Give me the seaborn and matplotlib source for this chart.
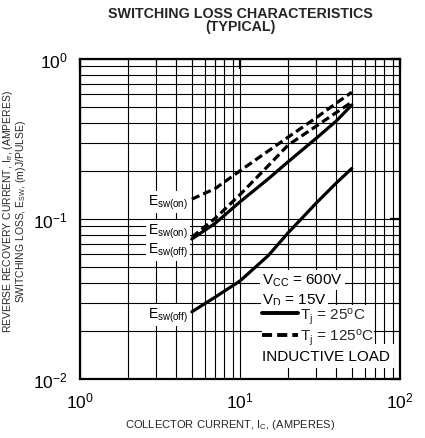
import matplotlib
matplotlib.use("Agg")
import matplotlib.pyplot as plt
from matplotlib.lines import Line2D
from matplotlib.ticker import LogLocator, NullFormatter
import seaborn as sns
import pandas as pd

# ---- data ----
current = [5, 7, 10, 15, 20, 30, 40, 50]
esw_on_125 = [0.133, 0.155, 0.200, 0.266, 0.325, 0.430, 0.530, 0.620]
esw_off_125 = [0.077, 0.101, 0.142, 0.215, 0.290, 0.381, 0.463, 0.538]
esw_on_25 = [0.075, 0.094, 0.128, 0.178, 0.228, 0.320, 0.410, 0.516]
esw_off_25 = [0.0263, 0.0325, 0.041, 0.059, 0.082, 0.126, 0.168, 0.207]

title_text = "SWITCHING LOSS CHARACTERISTICS\n(TYPICAL)"
xlabel_text = r"COLLECTOR CURRENT, I$_{\mathrm{C}}$, (AMPERES)"
ylabel1_text = r"REVERSE RECOVERY CURRENT, I$_{\mathrm{rr}}$, (AMPERES)"
ylabel2_text = r"SWITCHING LOSS, E$_{\mathrm{SW}}$, (m)J/PULSE)"
curve_labels = [r"E$_{\mathrm{sw(on)}}$", r"E$_{\mathrm{sw(on)}}$",
                r"E$_{\mathrm{sw(off)}}$", r"E$_{\mathrm{sw(off)}}$"]
cond_texts = [r"V$_{\mathrm{CC}}$ = 600V", r"V$_{\mathrm{D}}$ = 15V", "INDUCTIVE LOAD"]
temp_labels = [r"T$_{\mathrm{j}}$ = 25$^{\mathrm{o}}$C", r"T$_{\mathrm{j}}$ = 125$^{\mathrm{o}}$C"]

sns.set_theme(style="white")
plt.rcParams["font.family"] = ["Liberation Sans", "DejaVu Sans"]
plt.rcParams["mathtext.fontset"] = "custom"
plt.rcParams["mathtext.rm"] = "Liberation Sans"
plt.rcParams["mathtext.it"] = "Liberation Sans:italic"
plt.rcParams["mathtext.bf"] = "Liberation Sans:bold"
plt.rcParams["axes.unicode_minus"] = False
plt.rcParams["lines.dashed_pattern"] = [2.6, 1.3]

fig = plt.figure(figsize=(4.25, 4.39), dpi=100)
ax = fig.add_axes([80 / 425, 59 / 439, 320 / 425, 320 / 439])

series = [(esw_on_125, "--"), (esw_off_125, "--"), (esw_on_25, "-"), (esw_off_25, "-")]
for vals, ls in series:
    df = pd.DataFrame({"I": current, "E": vals})
    sns.lineplot(data=df, x="I", y="E", ax=ax, color="black", lw=2.3,
                 linestyle=ls, zorder=4)

ax.set_xscale("log")
ax.set_yscale("log")
ax.set_xlim(1, 100)
ax.set_ylim(0.01, 1)
ax.xaxis.set_major_locator(LogLocator(base=10, numticks=10))
ax.xaxis.set_minor_locator(LogLocator(base=10, subs=range(2, 10), numticks=20))
ax.yaxis.set_minor_locator(LogLocator(base=10, subs=range(2, 10), numticks=20))
ax.xaxis.set_minor_formatter(NullFormatter())
ax.yaxis.set_minor_formatter(NullFormatter())
ax.set_xlabel("")
ax.set_ylabel("")

ax.set_axisbelow(True)
ax.grid(which="both", color="black", lw=0.8)
for s in ax.spines.values():
    s.set_color("black")
    s.set_linewidth(1.6)
ax.tick_params(which="both", direction="in", top=True, right=True, colors="black")
ax.tick_params(which="major", length=7, width=1.6, labelsize=12.5, pad=9)
ax.tick_params(which="minor", length=4, width=0.8)
ax.tick_params(axis="x", which="major", pad=8)

# curve labels
label_y = [0.553, 0.4625, 0.403, 0.2]
for txt, yy in zip(curve_labels, label_y):
    ax.text(0.3375, yy, txt, transform=ax.transAxes, ha="right", va="center",
            fontsize=10, color="black", zorder=3,
            bbox=dict(boxstyle="square,pad=0.12", fc="white", ec="none"))

# conditions block
lx = (262 - 80) / 320
for txt, yy, pad in zip(cond_texts, [0.309, 0.249, 0.072], [0.12, 0.05, 0.3]):
    ax.text(lx, yy, txt, transform=ax.transAxes, ha="left", va="center",
            fontsize=11, color="black", zorder=3.2,
            bbox=dict(boxstyle=f"square,pad={pad}", fc="white", ec="none"))

handles = [Line2D([], [], color="black", lw=2.8, linestyle="-"),
           Line2D([], [], color="black", lw=2.8, linestyle="--")]
leg = ax.legend(handles, temp_labels, loc="center left",
                bbox_to_anchor=(lx, (380 - 327) / 320), frameon=True,
                fontsize=11, borderpad=0.0, borderaxespad=0, handlelength=2.35,
                handletextpad=0.15, labelspacing=0.05)
leg.get_frame().set_facecolor("white")
leg.get_frame().set_edgecolor("none")
leg.get_frame().set_alpha(1)
leg.get_frame().set_boxstyle("square", pad=0)
leg.set_zorder(3.5)

fig.text(240 / 425, 1 - 6.5 / 439, title_text, ha="center", va="top",
         fontsize=10.3, fontweight="bold", linespacing=1.0)
fig.text(14.5 / 425, 1 - 212 / 439, ylabel1_text + "\n" + ylabel2_text,
         ha="center", va="center", rotation=90, fontsize=7.5,
         multialignment="center", linespacing=0.92)
fig.text(230 / 425, 1 - 425 / 439, xlabel_text, ha="center", va="center", fontsize=8)

fig.savefig("out.png", dpi=100)
